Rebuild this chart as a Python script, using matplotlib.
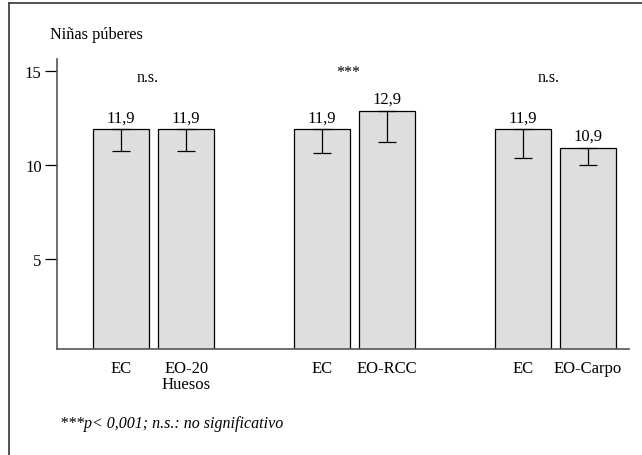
import numpy as np
import matplotlib
matplotlib.use("Agg")
import matplotlib.pyplot as plt
from matplotlib.lines import Line2D

# data
groups = ["n.s.", "***", "n.s."]
labels = ["EC", "EO-20\nHuesos", "EC", "EO-RCC", "EC", "EO-Carpo"]
values = [11.9, 11.9, 11.9, 12.9, 11.9, 10.9]
lower = [10.76, 10.76, 10.65, 11.24, 10.36, 10.0]
value_text = ["11,9", "11,9", "11,9", "12,9", "11,9", "10,9"]

plt.rcParams['font.family'] = ['Liberation Serif', 'DejaVu Serif']

fig = plt.figure(figsize=(6.42, 4.56), dpi=100)
ax = fig.add_axes([0.0888, 0.2325, 0.8912, 0.636])

gstep = 3.085
pos = np.array([g * gstep + k for g in range(3) for k in range(2)])
vals = np.array(values)
err_lo = vals - np.array(lower)

ax.bar(pos, vals, width=0.86, color="#dedede", edgecolor="black", linewidth=0.9)
ax.errorbar(pos, vals, yerr=[err_lo, np.zeros_like(vals)], fmt="none",
            ecolor="black", elinewidth=0.9, capsize=6.5, capthick=0.9)

for x, v, t in zip(pos, vals, value_text):
    ax.text(x, v + 0.22, t, ha="center", va="bottom", fontsize=12)

for g, s in enumerate(groups):
    cx = g * gstep + 0.5 - 0.1
    y = 14.95 if s == "***" else 14.7
    ax.text(cx, y, s, ha="center", va="center", fontsize=11.5)

ax.set_xlim(-0.985, pos[-1] + 0.635)
ax.set_ylim(0.2, 15.65)
ax.set_yticks([5, 10, 15])
ax.set_yticklabels(["5", "10", "15"], fontsize=12)
ax.set_xticks(pos)
ax.set_xticklabels(labels, fontsize=12, linespacing=1.0)
ax.tick_params(axis="x", length=0, pad=8)
ax.tick_params(axis="y", length=9, width=0.9, pad=2)

for side in ["top", "right"]:
    ax.spines[side].set_visible(False)
for side in ["left", "bottom"]:
    ax.spines[side].set_color("#555555")
    ax.spines[side].set_linewidth(1.2)

fig.text(50 / 642, 1 - 35 / 456, "Niñas púberes", ha="left", va="center", fontsize=11.7)
fig.text(60 / 642, 1 - 424 / 456, "***p< 0,001; n.s.: no significativo",
         ha="left", va="center", fontsize=11.5, style="italic")

# frame around the figure (only top and left visible)
fig.add_artist(Line2D([9 / 642, 1.0], [1 - 4 / 456, 1 - 4 / 456],
                      transform=fig.transFigure, color="#444444", linewidth=1.3))
fig.add_artist(Line2D([9 / 642, 9 / 642], [0.0, 1 - 4 / 456],
                      transform=fig.transFigure, color="#444444", linewidth=1.3))

fig.savefig("out.png", dpi=100)
